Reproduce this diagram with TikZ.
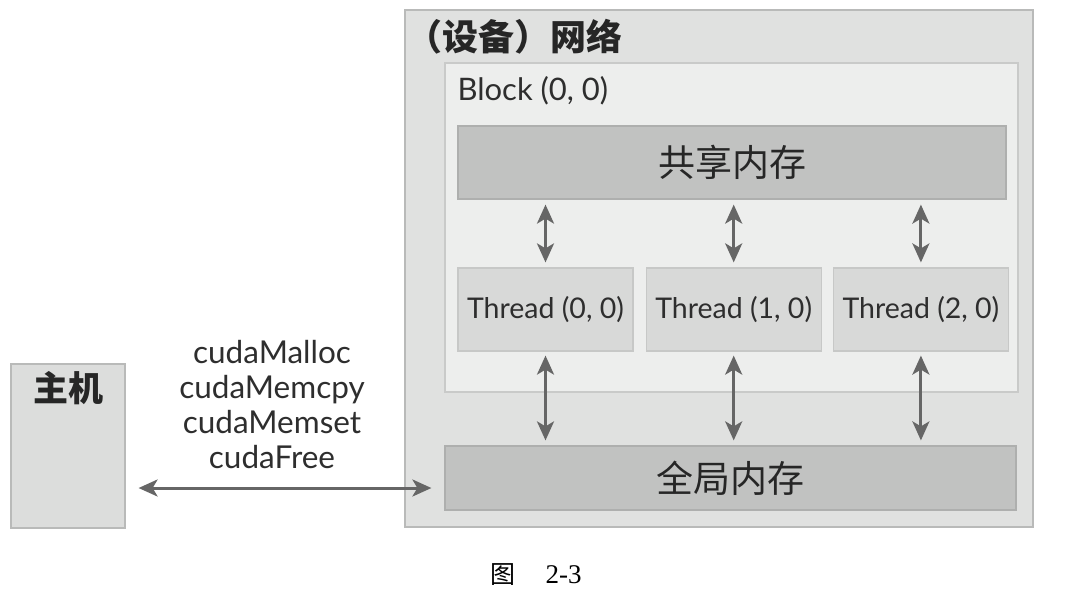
\documentclass[tikz,border=0pt]{standalone}
\usepackage{fontspec}
\setmainfont{Lato}
\newfontfamily\cjk{Noto Sans CJK SC}
\newfontfamily\capfont{Liberation Serif}
\usepackage{tikz}
\usetikzlibrary{arrows.meta,positioning,calc}
\definecolor{gridfill}{HTML}{E0E1E0}
\definecolor{gridline}{HTML}{B9BAB9}
\definecolor{blockfill}{HTML}{EDEEED}
\definecolor{blockline}{HTML}{C9CAC9}
\definecolor{memfill}{HTML}{C1C2C1}
\definecolor{thrfill}{HTML}{D8D9D8}
\definecolor{hostfill}{HTML}{DCDDDC}
\definecolor{arrowgray}{HTML}{666666}
\definecolor{txt}{HTML}{2E2E2E}
\tikzset{
box/.style = {rectangle, inner sep=0pt, line width=1.2pt},
grid/.style = {box, draw=gridline, fill=gridfill},
blk/.style = {box, draw=blockline, fill=blockfill},
mem/.style = {box, draw=memfill!90!black, fill=memfill, font=\cjk\fontsize{37}{40}\selectfont, text=black!85},
thr/.style = {box, draw=thrfill!92!black, fill=thrfill, minimum width=175pt, minimum height=83pt,
  font=\fontsize{28.5}{32}\selectfont, text=txt},
host/.style = {box, draw=gridline, fill=hostfill},
dbl/.style = {{Stealth[length=19pt,width=17pt,inset=5pt]}-{Stealth[length=19pt,width=17pt,inset=5pt]},
  draw=arrowgray, line width=3pt}
}

\begin{document}
\begin{tikzpicture}[x=1pt, y=-1pt]
  \useasboundingbox (0,0) rectangle (1074,594);
  % device side
  \node [grid, minimum width=628pt, minimum height=517pt]  (grid)    at (719,268.5) {};
  \node [anchor=west, font=\cjk\bfseries\fontsize{36}{40}\selectfont, text=black!85] (gridlabel) at (403,37) {（设备）网络};
  \node [blk, minimum width=573pt, minimum height=329pt]   (block)   at (731.5,227.5) {};
  \node [anchor=west, font=\fontsize{31}{34}\selectfont, text=txt] (blocklabel) at (454,91) {Block (0, 0)};
  \node [mem, minimum width=548pt, minimum height=73pt]    (shared)  at (732,162.5) {共享内存};
  \node [thr]                                              (thr0)    at (545.5,309.5) {Thread (0, 0)};
  \node [thr, right=12pt of thr0]                          (thr1)    {Thread (1, 0)};
  \node [thr, right=11pt of thr1]                          (thr2)    {Thread (2, 0)};
  \node [mem, minimum width=571pt, minimum height=64pt]    (global)  at (730.5,478) {全局内存};
  % host side
  \node [host, minimum width=114pt, minimum height=164pt]  (host)    at (68,446) {};
  \node [below=4pt of host.north, font=\cjk\bfseries\fontsize{35}{38}\selectfont, text=black!85] (hostlabel) {主机};
  \node [align=center, font=\fontsize{31.5}{35}\selectfont, text=txt] (funcs) at (272,405)
        {cudaMalloc\\cudaMemcpy\\cudaMemset\\cudaFree};
  \node [font=\capfont\fontsize{27}{30}\selectfont] (caption) at (536,575) {{\cjk\fontsize{25}{30}\selectfont 图}\hspace{30pt}2-3};

  \foreach \t in {thr0,thr1,thr2}{
    \draw [dbl, shorten <=5pt, shorten >=5pt] (\t.north) -- (\t.north |- shared.south);
    \draw [dbl, shorten <=4pt, shorten >=5pt] (\t.south) -- (\t.south |- global.north);
  }
  \draw [dbl] ([xshift=13pt, yshift=-42pt]host.east) -- ([xshift=-13pt, yshift=-10pt]global.west);
\end{tikzpicture}
\end{document}
